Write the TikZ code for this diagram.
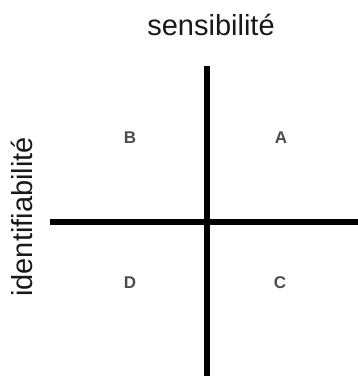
\documentclass[tikz,border=0pt]{standalone}
\usepackage{fontspec}
\setmainfont{Liberation Sans}
\begin{document}
\begin{tikzpicture}[x=1pt,y=-1pt]
			\useasboundingbox (0,0) rectangle (358,376);
			\tikzset{axe/.style={line width=5.5pt},
				quad/.style={font=\bfseries\fontsize{17}{20}\selectfont,text=black!70,inner sep=0pt}}
			\draw[axe] (207,66) -- (207,376);
			\draw[axe] (50,222) -- (358,222);
			\node[anchor=base,font=\fontsize{29}{32}\selectfont,text=black!90] (sens) at (211,35) {sensibilit\'e};
			\node[anchor=base,rotate=90,font=\fontsize{29}{32}\selectfont,text=black!90] (ident) at (33,217) {identifiabilit\'e};
			\node[quad] (B) at (130,138) {B};
			\node[quad] (A) at (281,138) {A};
			\node[quad] (D) at (130,283) {D};
			\node[quad] (C) at (280,283) {C};
		\end{tikzpicture}
\end{document}
